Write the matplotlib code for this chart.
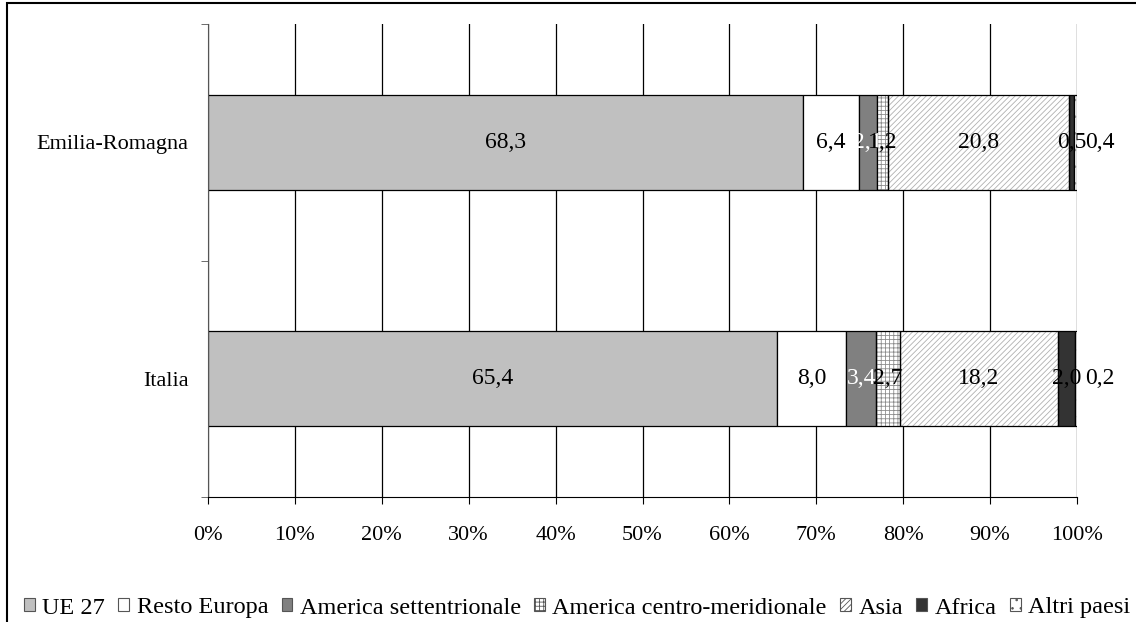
import matplotlib.pyplot as plt
import numpy as np
from matplotlib.patches import Rectangle, Patch

plt.rcParams['font.family'] = ['Liberation Serif', 'DejaVu Serif']
plt.rcParams['hatch.linewidth'] = 0.6

# Composizione percentuale per area di provenienza
regioni = ["Italia", "Emilia-Romagna"]
aree = ["UE 27", "Resto Europa", "America settentrionale",
        "America centro-meridionale", "Asia", "Africa", "Altri paesi"]
italia = [65.4, 8.0, 3.4, 2.7, 18.2, 2.0, 0.2]
emilia = [68.3, 6.4, 2.1, 1.2, 20.8, 0.5, 0.4]

valori = np.array([italia, emilia])
quote = valori / valori.sum(axis=1, keepdims=True) * 100

colori = ["#c0c0c0", "white", "#808080", "white", "white", "#333333", "white"]
tratteggi = [None, None, None, "++++", "//////", None, ".."]
colori_tratt = [None, None, None, "#8c8c8c", "#b0b0b0", None, "#9a9a9a"]
colori_testo = ["black", "black", "white", "black", "black", "black", "black"]

fig = plt.figure(figsize=(11.36, 6.22), dpi=100)
ax = fig.add_axes([208 / 1136, 1 - 497 / 622, 869 / 1136, 473 / 622])

y = np.arange(len(regioni))
h = 0.40
sinistra = np.zeros(len(regioni))
for k, area in enumerate(aree):
    w = quote[:, k]
    if tratteggi[k]:
        ax.barh(y, w, h, left=sinistra, color="white",
                edgecolor=colori_tratt[k], hatch=tratteggi[k], linewidth=0, zorder=2)
        ax.barh(y, w, h, left=sinistra, fill=False, edgecolor="black",
                linewidth=0.9, zorder=3)
    else:
        ax.barh(y, w, h, left=sinistra, color=colori[k], edgecolor="black",
                linewidth=0.9, zorder=2)
    for i in range(len(regioni)):
        testo = f"{valori[i, k]:.1f}".replace(".", ",")
        if area == "Altri paesi":
            ax.annotate(testo, (100, y[i]), xytext=(27, 0), textcoords="offset points",
                        ha="right", va="center", fontsize=17, color=colori_testo[k], zorder=4)
        else:
            ax.text(sinistra[i] + w[i] / 2, y[i], testo, ha="center", va="center",
                    fontsize=17, color=colori_testo[k], zorder=4)
    sinistra += w

ax.set_xlim(0, 100)
ax.set_ylim(-0.5, 1.5)
ax.set_xticks(np.arange(0, 101, 10))
ax.set_xticklabels([f"{t}%" for t in range(0, 101, 10)], fontsize=16)
ax.set_yticks(y)
ax.set_yticklabels(regioni, fontsize=16)
ax.set_yticks([-0.5, 0.5, 1.5], minor=True)
ax.tick_params(axis="y", which="major", length=0, pad=14)
ax.tick_params(axis="y", which="minor", length=5, color="#555555")
ax.tick_params(axis="x", length=5, pad=16, color="black")
ax.grid(axis="x", color="black", linewidth=0.9)
ax.set_axisbelow(True)
for s in ["top", "right"]:
    ax.spines[s].set_visible(False)
ax.spines["left"].set_color("#555555")
ax.spines["bottom"].set_color("black")

# legenda su una riga
maniglie = []
for k, area in enumerate(aree):
    if tratteggi[k]:
        maniglie.append(Patch(facecolor="white", edgecolor="#555555",
                              hatch=tratteggi[k], linewidth=0.8, label=area))
    else:
        maniglie.append(Patch(facecolor=colori[k], edgecolor="#555555",
                              linewidth=0.8, label=area))
fig.legend(handles=maniglie, loc="center", bbox_to_anchor=(0.508, 1 - 608 / 622),
           ncol=7, frameon=False, fontsize=17.5, handlelength=0.45, handleheight=0.45,
           handletextpad=0.3, columnspacing=0.55, borderpad=0)

# cornice esterna
fig.patches.append(Rectangle((7 / 1136, -0.1), 1.2, 1 - 3 / 622 + 0.1,
                             transform=fig.transFigure, fill=False,
                             edgecolor="black", linewidth=1.5))

fig.savefig("out.png", dpi=100)
